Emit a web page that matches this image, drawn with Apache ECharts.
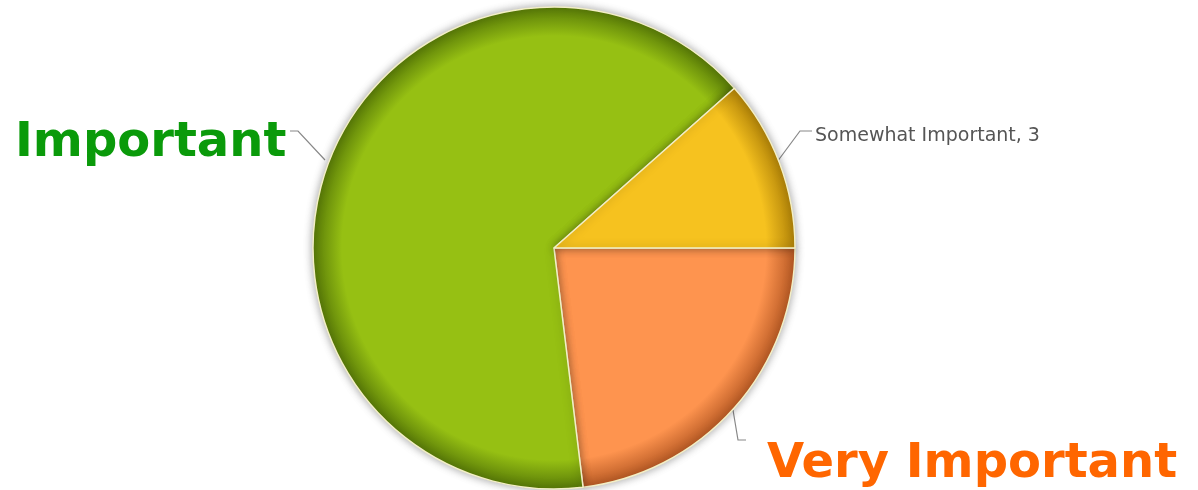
<!DOCTYPE html>
<html>
<head>
<meta charset="utf-8">
<script src="https://cdn.jsdelivr.net/npm/echarts@6/dist/echarts.min.js"></script>
<style>html,body{margin:0;padding:0;background:#fff}#c{width:1198px;height:490px}</style>
</head>
<body>
<div id="c"></div>
<script>
const categories = ['Very Important', 'Important', 'Somewhat Important'];
const values = [6, 17, 3];
const colors = ['#FE944F', '#96C013', '#F6C21F'];
const rims = ['#B85A24', '#587A08', '#B08208'];

const CX = 554, CY = 248, R = 241;
const chart = echarts.init(document.getElementById('c'));

function grad(i) {
  return new echarts.graphic.RadialGradient(CX, CY, R, [
    {offset: 0, color: colors[i]},
    {offset: 0.88, color: colors[i]},
    {offset: 1, color: rims[i]}
  ], true);
}

const labelStyles = [
  {formatter: '{b}', color: '#FF6600', fontSize: 48, fontWeight: 'bold', fontFamily: 'DejaVu Sans', overflow: 'none', width: 600},
  {formatter: '{b}', color: '#0A9A0A', fontSize: 48, fontWeight: 'bold', fontFamily: 'DejaVu Sans', overflow: 'none', width: 600},
  {formatter: '{b}, {c}', color: '#555555', fontSize: 19, fontFamily: 'DejaVu Sans', overflow: 'none', width: 600}
];

const layouts = [
  {x: 767, y: 465, line: [[733, 410], [738, 440], [746, 440]]},
  {x: 15, y: 144, line: [[325, 160], [298, 131], [290, 131]]},
  {x: 815, y: 136, line: [[777, 162], [800, 131], [812, 131]]}
];

chart.setOption({
  backgroundColor: '#ffffff',
  animation: false,
  series: [{
    type: 'pie',
    center: [CX, CY],
    radius: R,
    startAngle: 0,
    clockwise: true,
    data: categories.map((n, i) => ({
      name: n,
      value: values[i],
      itemStyle: {color: grad(i)},
      label: labelStyles[i]
    })),
    itemStyle: {
      borderColor: '#F3EFC6',
      borderWidth: 1.5,
      shadowBlur: 8,
      shadowColor: 'rgba(0,0,0,0.35)'
    },
    label: {show: true, position: 'outside', overflow: 'none'},
    labelLine: {show: true, lineStyle: {color: '#888', width: 1.2}},
    labelLayout: function (p) {
      const l = layouts[p.dataIndex];
      return {x: l.x, y: l.y, align: 'left', verticalAlign: 'middle', width: 600, labelLinePoints: l.line};
    },
    emphasis: {disabled: true}
  }]
});
</script>
</body>
</html>
